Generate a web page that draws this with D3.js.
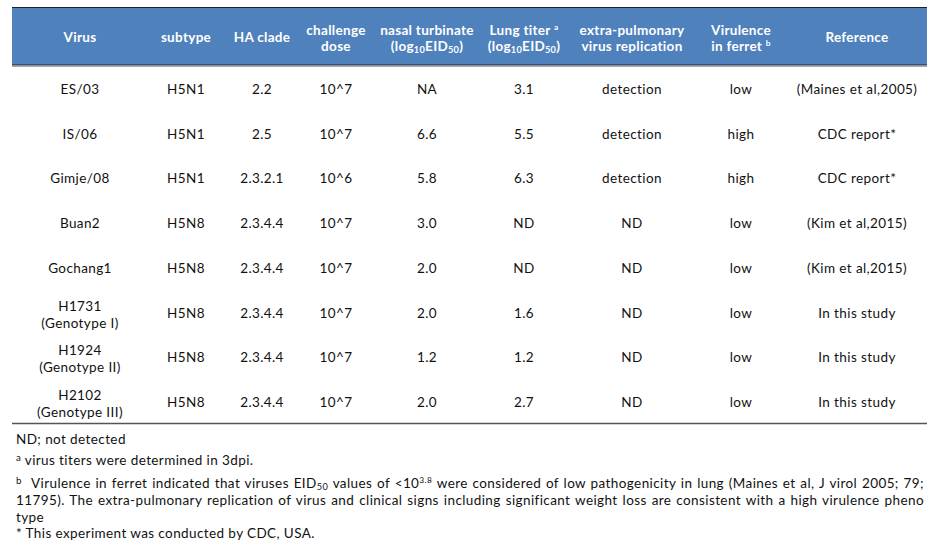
<!DOCTYPE html>
<html><head><meta charset="utf-8">
<script src="https://cdn.jsdelivr.net/npm/d3@7/dist/d3.min.js"></script>
<style>
html,body{margin:0;padding:0;background:#fff;}
svg{display:block;}
text{font-family:Lato,"Noto Sans",sans-serif;}
</style></head>
<body>
<svg id="chart" width="942" height="548"></svg>
<script>
// ---- data ----
const viruses = ["ES/03","IS/06","Gimje/08","Buan2","Gochang1","H1731","H1924","H2102"];
const virusSub = ["","","","","","(Genotype I)","(Genotype II)","(Genotype III)"];
const subtypes = ["H5N1","H5N1","H5N1","H5N8","H5N8","H5N8","H5N8","H5N8"];
const haClades = ["2.2","2.5","2.3.2.1","2.3.4.4","2.3.4.4","2.3.4.4","2.3.4.4","2.3.4.4"];
const doses = ["10^7","10^7","10^6","10^7","10^7","10^7","10^7","10^7"];
const nasalTiters = ["NA","6.6","5.8","3.0","2.0","2.0","1.2","2.0"];
const lungTiters = ["3.1","5.5","6.3","ND","ND","1.6","1.2","2.7"];
const extraPulmonary = ["detection","detection","detection","ND","ND","ND","ND","ND"];
const virulence = ["low","high","high","low","low","low","low","low"];
const references = ["(Maines et al,2005)","CDC report*","CDC report*","(Kim et al,2015)","(Kim et al,2015)","In this study","In this study","In this study"];
// header lines: arrays of segments [text, kind] kind: n normal, sub subscript, sup superscript
const headers = [
  [[["Virus","n"]]],
  [[["subtype","n"]]],
  [[["HA clade","n"]]],
  [[["challenge","n"]],[["dose","n"]]],
  [[["nasal turbinate","n"]],[["(log","n"],["10","sub"],["EID","n"],["50","sub"],[")","n"]]],
  [[["Lung titer ","n"],["a","sup"]],[["(log","n"],["10","sub"],["EID","n"],["50","sub"],[")","n"]]],
  [[["extra-pulmonary","n"]],[["virus replication","n"]]],
  [[["Virulence","n"]],[["in ferret ","n"],["b","sup"]]],
  [[["Reference","n"]]]
];
const footnotes = [
  {lines:[[["ND; not detected","n"]]]},
  {lines:[[["a","supf"],[" virus titers were determined in 3dpi.","n"]]]},
  {lines:[
    [["b","supf"],["  Virulence in ferret indicated that viruses EID","n"],["50","sub"],[" values of <10","n"],["3.8","sup"],[" were considered of low pathogenicity in lung (Maines et al, J virol 2005; 79;","n"]],
    [["11795). The extra-pulmonary replication of virus and clinical signs including significant weight loss are consistent with a high virulence pheno","n"]],
    [["type","n"]]
  ], justify:[true,true,false]},
  {lines:[[["* This experiment was conducted by CDC, USA.","n"]]]}
];

// ---- layout ----
const svg = d3.select("#chart");
const left = 12, right = 927;
const colCenters = [80,186,262,336,427,524,632,741,857];
const x = d3.scaleOrdinal().domain(d3.range(9)).range(colCenters);
const y = d3.scaleLinear().domain([0, viruses.length-1]).range([89, 402]);
const FS = 13.5, HFS = 13.5;

// header band
svg.append("rect").attr("x",left).attr("y",7).attr("width",right-left).attr("height",58).attr("fill","#4F81BD");
svg.append("line").attr("x1",left).attr("x2",right).attr("y1",7.5).attr("y2",7.5).attr("stroke","#1a2230").attr("stroke-width",1.2);
svg.append("line").attr("x1",left).attr("x2",right).attr("y1",65).attr("y2",65).attr("stroke","#1a2230").attr("stroke-width",1.2);
svg.append("line").attr("x1",left).attr("x2",right).attr("y1",66.5).attr("y2",66.5).attr("stroke","#a9a9a9").attr("stroke-width",1);
svg.append("line").attr("x1",left).attr("x2",right).attr("y1",423.5).attr("y2",423.5).attr("stroke","#555").attr("stroke-width",1.6);

function addSegs(t, segs, fs){
  const off = v=> v==="sub"?2:v==="sup"?-5:v==="supf"?-4:0;
  segs.forEach(([s,k],i)=>{
    const ts = t.append("tspan").text(s);
    if(k==="sub"){ ts.attr("font-size",fs*0.68); }
    else if(k==="sup"){ ts.attr("font-size",fs*0.62); }
    else if(k==="supf"){ ts.attr("font-size",fs*0.72); }
    const prev = i>0 ? segs[i-1][1] : "n";
    const d = off(k)-off(prev);
    if(d) ts.attr("dy", d);
  });
}

// headers
headers.forEach((lines,i)=>{
  const n = lines.length;
  lines.forEach((segs,j)=>{
    const yy = n===1 ? 42 : 34.5 + j*16.5;
    const t = svg.append("text").attr("x",x(i)).attr("y",yy).attr("text-anchor","middle")
      .attr("fill","#fff").attr("font-weight","bold").attr("font-size",HFS).attr("letter-spacing",0.3);
    addSegs(t, segs, HFS);
  });
});

// body
const cols = [viruses, subtypes, haClades, doses, nasalTiters, lungTiters, extraPulmonary, virulence, references];
viruses.forEach((v,r)=>{
  cols.forEach((col,c)=>{
    const base = t => t.attr("x",x(c)).attr("text-anchor","middle").attr("font-size",FS).attr("letter-spacing",0.4).attr("fill","#111");
    if(c===0 && virusSub[r]){
      base(svg.append("text")).attr("y",y(r)-2).text(col[r]);
      base(svg.append("text")).attr("y",y(r)+15).text(virusSub[r]);
    } else {
      base(svg.append("text")).attr("y",y(r)+5).text(col[r]);
    }
  });
});

// footnotes
const fxL = 16, fxR = 924;
const footY = [444,465,488,505,522,538];
let li = 0;
footnotes.forEach((fn)=>{
  fn.lines.forEach((segs,j)=>{
    const t = svg.append("text").attr("x",fxL).attr("y",footY[li]).attr("font-size",FS).attr("fill","#111")
      .attr("letter-spacing",0.4).attr("xml:space","preserve");
    addSegs(t, segs, FS);
    if(fn.justify && fn.justify[j]){
      const w = t.node().getComputedTextLength();
      const txt = segs.map(s=>s[0]).join("");
      const spaces = (txt.match(/ /g)||[]).length;
      if(spaces>0){ t.attr("word-spacing", Math.max(0,(fxR-fxL-w)/spaces)); }
    }
    li++;
  });
});
</script>
</body></html>
